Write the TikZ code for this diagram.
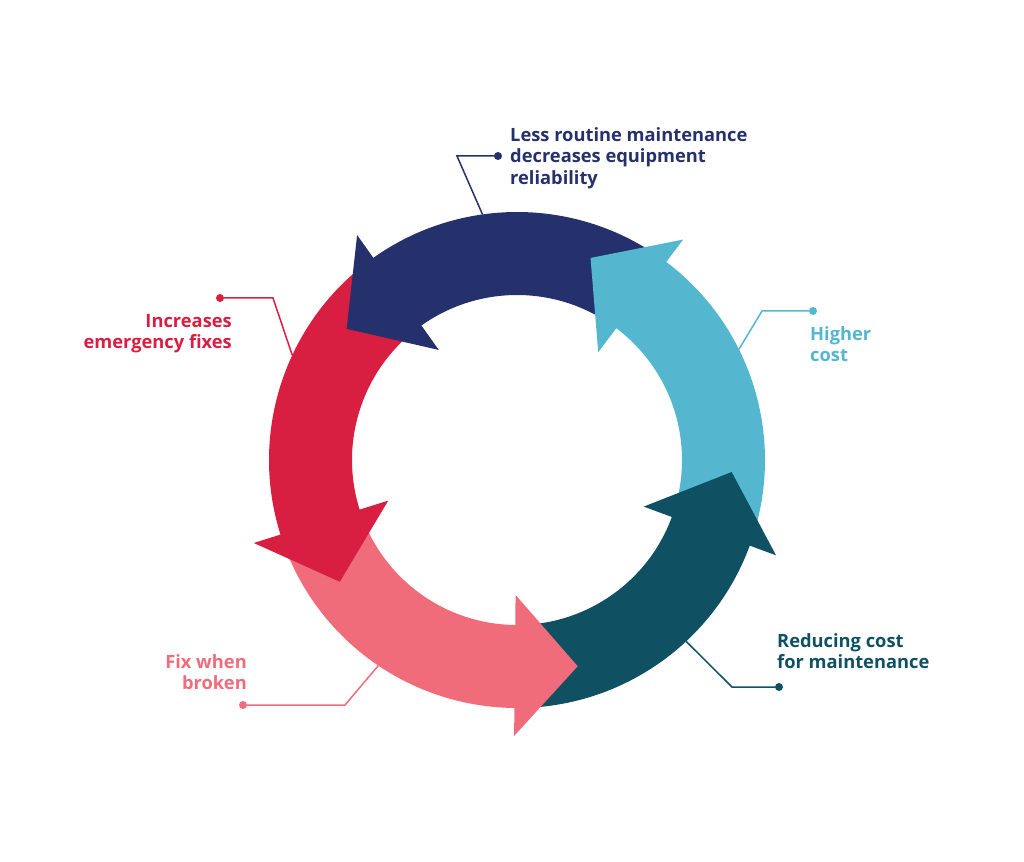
\documentclass[tikz,border=0pt]{standalone}
\usepackage{fontspec}
\setmainfont{Open Sans}
\usepackage{xcolor}
\definecolor{navy}{RGB}{37,49,109}
\definecolor{crimson}{RGB}{216,30,65}
\definecolor{skyblue}{RGB}{84,183,207}
\definecolor{deepteal}{RGB}{15,81,99}
\definecolor{salmon}{RGB}{240,108,123}
\newcommand{\ringband}[3]{\fill[#1] (#2:248) arc[start angle=#2, end angle=#3, radius=248] -- (#3:165) arc[start angle=#3, end angle=#2, radius=165] -- cycle;}
\newcommand{\ringhead}[2]{\fill[#1] (#2:276) -- ({#2+17}:215) -- (#2:135) -- cycle;}

\begin{document}
\begin{tikzpicture}[x=1pt, y=1pt,
  tagtext/.style={font=\fontsize{18.3}{21.7}\selectfont\bfseries, inner sep=0pt},
  tipdot/.style={circle, inner sep=0pt, minimum size=8pt},
  leadline/.style={line width=1.5pt}]
\useasboundingbox (-517,-401) rectangle (507,460);
% Bands
\ringband{navy}{55}{126.4}
\ringband{crimson}{127.4}{198.5}
\ringband{salmon}{199.5}{270.4}
\ringband{deepteal}{271.4}{340.8}
\ringband{skyblue}{-18.2}{54}
% Heads
\ringhead{navy}{125.4}
\ringhead{crimson}{197.5}
\ringhead{salmon}{269.4}
\ringhead{deepteal}{339.8}
\ringhead{skyblue}{53}
% Label 1
\node[tipdot, fill=navy] (dot1) at (-19,304) {};
\coordinate (bend1) at (-60,304);
\coordinate (edge1) at (98:248);
\draw[leadline, navy] (dot1) -- (bend1) -- (edge1);
\node[tagtext, navy, align=left, anchor=north west] (text1) at (-7,333) {Less routine maintenance\\decreases equipment\\reliability};
% Label 2
\node[tipdot, fill=crimson] (dot2) at (-297,162) {};
\coordinate (bend2) at (-244,162);
\coordinate (edge2) at (155:248);
\draw[leadline, crimson] (dot2) -- (bend2) -- (edge2);
\node[tagtext, crimson, align=right, anchor=north east] (text2) at (-285,146.1) {Increases\\emergency fixes};
% Label 3
\node[tipdot, fill=salmon] (dot3) at (-274,-245) {};
\coordinate (bend3) at (-172,-245);
\coordinate (edge3) at (236:248);
\draw[leadline, salmon] (dot3) -- (bend3) -- (edge3);
\node[tagtext, salmon, align=right, anchor=north east] (text3) at (-270,-194.1) {Fix when\\broken};
% Label 4
\node[tipdot, fill=deepteal] (dot4) at (262,-227) {};
\coordinate (bend4) at (215,-227);
\coordinate (edge4) at (-47:248);
\draw[leadline, deepteal] (dot4) -- (bend4) -- (edge4);
\node[tagtext, deepteal, align=left, anchor=north west] (text4) at (260,-173.1) {Reducing cost\\for maintenance};
% Label 5
\node[tipdot, fill=skyblue] (dot5) at (296,149) {};
\coordinate (bend5) at (245,149);
\coordinate (edge5) at (26.5:248);
\draw[leadline, skyblue] (dot5) -- (bend5) -- (edge5);
\node[tagtext, skyblue, align=left, anchor=north west] (text5) at (293,133.9) {Higher\\cost};
\end{tikzpicture}
\end{document}
